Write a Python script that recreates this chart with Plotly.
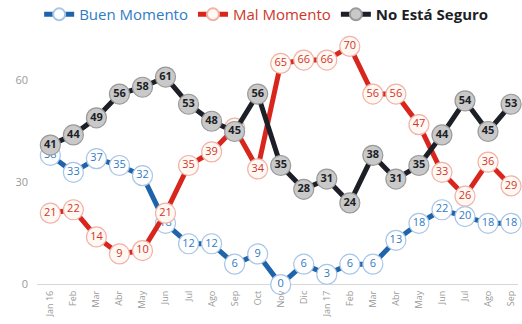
import plotly.graph_objects as go

# Monthly survey series, Jan 2016 - Sep 2017
months = ["Jan 16", "Feb", "Mar", "Abr", "May", "Jun", "Jul", "Ago", "Sep", "Oct",
          "Nov", "Dic", "Jan 17", "Feb", "Mar", "Abr", "May", "Jun", "Jul", "Ago", "Sep"]
buen = [38, 33, 37, 35, 32, 18, 12, 12, 6, 9, 0, 6, 3, 6, 6, 13, 18, 22, 20, 18, 18]
mal = [21, 22, 14, 9, 10, 21, 35, 39, 46, 34, 65, 66, 66, 70, 56, 56, 47, 33, 26, 36, 29]
no_seguro = [41, 44, 49, 56, 58, 61, 53, 48, 45, 56, 35, 28, 31, 24, 38, 31, 35, 44, 54, 45, 53]
y_ticks = [0, 30, 60]

x = list(range(len(months)))

series = [
    ("Buen Momento", buen, "#1f63ab", "#ffffff", "#a8c6e6", "#2f7bc4", "normal"),
    ("Mal Momento", mal, "#d8261d", "#fff8f3", "#f0b3a8", "#d0352a", "normal"),
    ("No Está Seguro", no_seguro, "#1d1f27", "#c9c9c9", "#9a9a9a", "#1d1f27", "bold"),
]

fig = go.Figure()
for name, vals, line_c, fill_c, edge_c, text_c, weight in series:
    label = f"<b>{name}</b>" if weight == "bold" else name
    fig.add_trace(go.Scatter(
        x=x, y=vals, name=f'<span style="color:{text_c}">{label}</span>',
        mode="lines+markers+text",
        line=dict(color=line_c, width=5),
        marker=dict(size=20, color=fill_c, line=dict(color=edge_c, width=1.2)),
        text=[str(v) for v in vals], textposition="middle center",
        textfont=dict(size=11, color=text_c, family="Open Sans", weight=weight),
        cliponaxis=False,
    ))

fig.update_layout(
    width=522, height=324,
    margin=dict(l=37, r=4, t=26, b=36, autoexpand=False),
    paper_bgcolor="white", plot_bgcolor="white",
    font=dict(family="Open Sans", color="#666"),
    showlegend=True,
    legend=dict(orientation="h", x=0.075, y=0.955, xref="container", yref="container",
                xanchor="left", yanchor="middle",
                font=dict(size=15), itemwidth=30, itemsizing="constant",
                tracegroupgap=0, bgcolor="rgba(0,0,0,0)"),
    xaxis=dict(range=[-0.58, 20.3], tickmode="array", tickvals=x, ticktext=months,
               tickangle=-90, tickfont=dict(size=9, color="#999"),
               showgrid=False, zeroline=False, showline=False, ticks=""),
    yaxis=dict(range=[-1, 76], tickmode="array", tickvals=y_ticks,
               tickfont=dict(size=11, color="#999"), showgrid=False,
               zeroline=True, zerolinecolor="#d8d8d8", zerolinewidth=1,
               showline=False, ticks="", ticklabelstandoff=8),
)

fig.write_html("out.html")
